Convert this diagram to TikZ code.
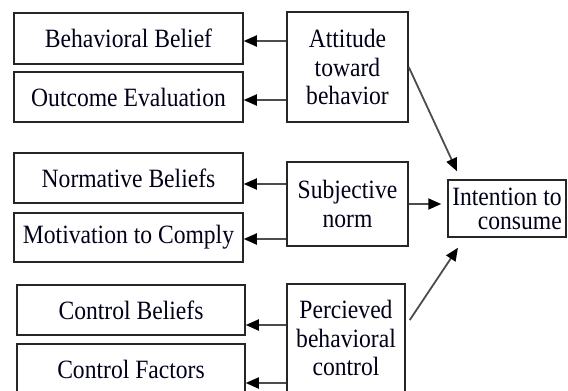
\documentclass[tikz,border=0pt]{standalone}
\usepackage{fontspec}
\setmainfont[FakeStretch=0.894]{Liberation Serif}
\usetikzlibrary{arrows.meta}
\begin{document}
\begin{tikzpicture}[x=1pt,y=-1pt,
  box/.style={draw=black!85, line width=1.5pt, inner sep=0pt, align=center,
    font=\fontsize{26.4}{28.5}\selectfont, text=black!90!blue},
  arr/.style={draw=black!70, line width=1.8pt, -{Triangle[length=13pt,width=11pt,fill=black,color=black]}}]
\useasboundingbox (0,0) rectangle (568,391);
\clip (0,0) rectangle (568,391);
% left column
\node[box, minimum width=229pt, minimum height=51pt] (bb) at (128.5,38.5) {Behavioral Belief};
\node[box, minimum width=229pt, minimum height=50pt] (oe) at (128.5,97) {Outcome Evaluation};
\node[box, minimum width=229pt, minimum height=50pt] (nb) at (128.5,178) {Normative Beliefs};
\node[box, minimum width=229pt, minimum height=49pt] (mc) at (128.5,237.5) {Motivation to Comply};
\node[box, minimum width=228pt, minimum height=50pt] (cb) at (131,310) {Control Beliefs};
\node[box, minimum width=228pt, minimum height=50pt] (cf) at (131,369) {Control Factors};
% middle column
\node[box, minimum width=121pt, minimum height=110pt] (att) at (347.5,67) {Attitude\\toward\\behavior};
\node[box, minimum width=121pt, minimum height=84pt] (sn) at (347.5,204) {Subjective\\norm};
\node[box, minimum width=118pt, minimum height=108pt] (pbc) at (346,338) {Percieved\\behavioral\\control};
% right
\node[box, minimum width=118pt, minimum height=57pt, align=right,
  font=\fontsize{26.4}{24}\selectfont] (int) at (507,208.5) {Intention to\\consume};
% arrows to left boxes
\draw[arr] (att.west |- 0,41) -- (bb.east |- 0,41);
\draw[arr] (att.west |- 0,100) -- (oe.east |- 0,100);
\draw[arr] (sn.west |- 0,184) -- (nb.east |- 0,184);
\draw[arr] (sn.west |- 0,239) -- (mc.east |- 0,239);
\draw[arr] (pbc.west |- 0,325) -- (cb.east |- 0,325);
\draw[arr] (pbc.west |- 0,383) -- (cf.east |- 0,383);
% arrows to intention
\draw[arr] (att.east) -- ([xshift=-50pt,yshift=8pt]int.north);
\draw[arr, shorten >=6pt] (sn.east) -- (sn.east -| int.west);
\draw[arr] ([xshift=4pt,yshift=18pt]pbc.east) -- ([xshift=-49pt,yshift=-10pt]int.south);
\end{tikzpicture}
\end{document}
